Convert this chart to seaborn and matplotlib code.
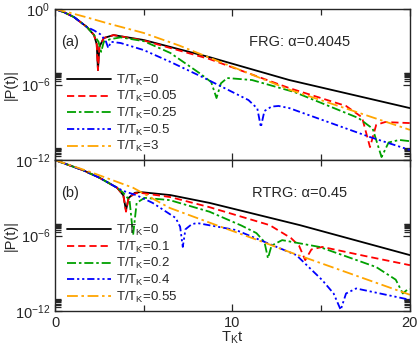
import numpy as np
import pandas as pd
import matplotlib
matplotlib.use("Agg")
import matplotlib.pyplot as plt
from matplotlib.ticker import FixedLocator, NullFormatter
import seaborn as sns

# ---- data: time T_K t and log10|P(t)| ----
# panel (a) FRG
a_t0_t = [0, 0.5, 1.07, 1.8, 2.2, 2.35, 2.42, 2.5, 2.75, 3.3, 5.0, 8.7, 13.2, 20]
a_t0_lg = [0, -0.25, -0.64, -1.43, -2.07, -2.8, -4.85, -3.0, -2.3, -2.07, -2.46, -3.82, -5.64, -7.87]

a_t1_t = [0, 0.5, 1.07, 1.8, 2.2, 2.35, 2.42, 2.5, 2.75, 3.3, 5.0, 8.7, 13.2, 16.4, 17.3, 17.75, 18.1, 18.6, 20]
a_t1_lg = [0, -0.25, -0.64, -1.43, -2.07, -2.8, -4.85, -3.0, -2.3, -2.07, -2.5, -3.97, -6.28, -7.7, -8.6, -10.97, -9.2, -8.98, -9.06]

a_t2_t = [0, 0.5, 1.07, 1.8, 2.2, 2.45, 2.6, 2.75, 3.1, 3.7, 5.0, 6.5, 8.15, 8.8, 9.1, 9.35, 9.7, 11.1,
          13.5, 17.1, 17.9, 18.4, 18.8, 19.4, 20]
a_t2_lg = [0, -0.25, -0.64, -1.43, -2.07, -2.6, -3.4, -2.6, -2.4, -2.25, -2.55, -3.49, -5.1, -5.8, -7.07,
           -5.9, -5.48, -5.64, -6.6, -8.66, -9.5, -11.76, -10.6, -10.4, -10.5]

a_t3_t = [0, 0.5, 1.07, 1.8, 2.2, 2.55, 2.85, 3.0, 3.15, 3.7, 5.0, 6.5, 8.3, 10.9, 11.4, 11.6, 11.8,
          12.2, 12.6, 13.2, 17.75, 20]
a_t3_lg = [0, -0.25, -0.64, -1.43, -1.7, -2.0, -2.5, -3.1, -2.6, -2.7, -3.26, -4.2, -5.4, -7.23, -7.9,
           -9.38, -8.1, -7.75, -7.7, -7.87, -10.17, -11.2]

a_t4_t = [0, 0.8, 1.74, 3.0, 5.0, 7.0, 9.3, 13.2, 16.5, 20]
a_t4_lg = [0, -0.28, -0.64, -1.15, -1.9, -2.9, -4.2, -6.4, -7.95, -9.6]

# panel (b) RTRG
b_t0_t = [0, 1.57, 2.5, 3.5, 3.85, 4.0, 4.15, 4.5, 4.8, 6.5, 8.7, 13.8, 20]
b_t0_lg = [0, -0.8, -1.4, -2.2, -2.8, -4.0, -3.0, -2.6, -2.54, -2.78, -3.4, -5.17, -7.55]

b_t1_t = [0, 1.57, 2.5, 3.5, 3.85, 4.0, 4.15, 4.5, 4.8, 6.5, 8.7, 12.1, 13.3, 13.75, 14.1, 14.45,
          15.06, 17.5, 20]
b_t1_lg = [0, -0.8, -1.4, -2.2, -2.8, -4.1, -3.0, -2.65, -2.6, -2.94, -3.74, -5.17, -6.2, -6.8, -7.95,
           -7.1, -6.9, -7.63, -8.35]

b_t2_t = [0, 1.57, 2.5, 3.5, 3.85, 4.2, 4.4, 4.6, 5.05, 6.46, 8.7, 10.5, 11.35, 11.8, 12.0, 12.2, 12.8,
          14.9, 18.1, 19.2, 19.6, 19.85, 20]
b_t2_lg = [0, -0.8, -1.4, -2.2, -2.6, -3.2, -5.96, -3.4, -3.0, -3.18, -4.1, -5.2, -5.8, -6.5, -7.8,
           -6.8, -6.36, -6.9, -8.5, -9.5, -10.6, -10.3, -10.25]

b_t3_t = [0, 1.57, 2.5, 3.5, 3.85, 4.6, 5.5, 6.8, 7.05, 7.2, 7.35, 7.7, 8.0, 10.2, 13.6, 15.06, 15.7,
          16.1, 16.4, 16.97, 20]
b_t3_lg = [0, -0.8, -1.4, -2.2, -2.45, -2.8, -3.4, -4.6, -5.3, -6.9, -5.5, -5.1, -5.0, -5.56, -7.55,
           -9.54, -10.6, -11.9, -10.6, -10.2, -11.1]

b_t4_t = [0, 2.0, 4.4, 6.46, 9.0, 11.7, 13.2, 16.5, 20]
b_t4_lg = [0, -0.95, -2.2, -3.8, -5.12, -6.5, -7.3, -8.95, -10.7]

labels_a = ["0", "0.05", "0.25", "0.5", "3"]
labels_b = ["0", "0.1", "0.2", "0.4", "0.55"]

colors = ["black", "#ff0000", "#00a000", "#0000ff", "#ffa500"]
dash_styles = [None, (4, 2.2), (5, 1.6, 1.4, 1.6), (4, 1.6, 1.2, 1.6, 1.2, 1.6), (6, 2, 1.4, 2)]

sns.set_style("ticks")
plt.rcParams["font.family"] = ["Liberation Sans", "DejaVu Sans"]
plt.rcParams["mathtext.fontset"] = "custom"
plt.rcParams["mathtext.rm"] = "Liberation Sans"
plt.rcParams["mathtext.it"] = "Liberation Sans:italic"
plt.rcParams["mathtext.default"] = "regular"

fig = plt.figure(figsize=(4.2, 3.48), dpi=100)
ax_a = fig.add_axes([0.131, 0.540, 0.845, 0.434])
ax_b = fig.add_axes([0.131, 0.106, 0.845, 0.434])

panels = [
    (ax_a, [(a_t0_t, a_t0_lg), (a_t1_t, a_t1_lg), (a_t2_t, a_t2_lg), (a_t3_t, a_t3_lg), (a_t4_t, a_t4_lg)],
     labels_a, "(a)", "FRG: α=0.4045", 0.58),
    (ax_b, [(b_t0_t, b_t0_lg), (b_t1_t, b_t1_lg), (b_t2_t, b_t2_lg), (b_t3_t, b_t3_lg), (b_t4_t, b_t4_lg)],
     labels_b, "(b)", "RTRG: α=0.45", 0.585),
]

for ax, series, labs, tag, title, leg_y in panels:
    for (t, lg), lab, c, ds in zip(series, labs, colors, dash_styles):
        df = pd.DataFrame({"t": t, "P": np.power(10.0, lg)})
        sns.lineplot(data=df, x="t", y="P", ax=ax, color=c, lw=1.3, estimator=None,
                     label=r"T/T$_{\rm K}$=" + lab)
        if ds is not None:
            ax.lines[-1].set_dashes(ds)
    ax.set_yscale("log")
    ax.set_xlim(0, 20)
    ax.set_ylim(1e-12, 1e0)
    ax.yaxis.set_major_locator(FixedLocator([1e-12, 1e-6, 1e0]))
    minors = [k * 1e-12 for k in range(2, 10)] + [k * 1e-6 for k in range(2, 10)]
    ax.yaxis.set_minor_locator(FixedLocator(minors))
    ax.yaxis.set_minor_formatter(NullFormatter())
    ax.xaxis.set_major_locator(FixedLocator([0, 10, 20]))
    ax.xaxis.set_minor_locator(FixedLocator([5, 15]))
    ax.tick_params(which="both", direction="in", top=True, right=True, labelsize=10.5, width=0.9)
    ax.tick_params(which="major", length=5)
    ax.tick_params(which="minor", length=4)
    for s in ax.spines.values():
        s.set_linewidth(1.0)
    ax.set_ylabel("|P(t)|", fontsize=10.5)
    ax.yaxis.set_label_coords(-0.105, 0.5)
    ax.set_xlabel("")
    ax.text(0.017, 0.78, tag, transform=ax.transAxes, fontsize=10.5, va="center", ha="left")
    ax.text(0.69, 0.78, title, transform=ax.transAxes, fontsize=10.5, va="center", ha="center")
    ax.legend(loc="upper left", bbox_to_anchor=(0.035, leg_y), frameon=False, fontsize=9.5,
              handlelength=3.3, handletextpad=0.4, labelspacing=0.12, borderpad=0, borderaxespad=0)

ax_a.tick_params(labelbottom=False)
ax_b.set_yticklabels(["$\\mathdefault{10^{-12}}$", "$\\mathdefault{10^{-6}}$", ""])
ax_b.set_xlabel(r"T$_{\rm K}$t", fontsize=10.5, labelpad=0)

fig.savefig("out.png", dpi=100)
